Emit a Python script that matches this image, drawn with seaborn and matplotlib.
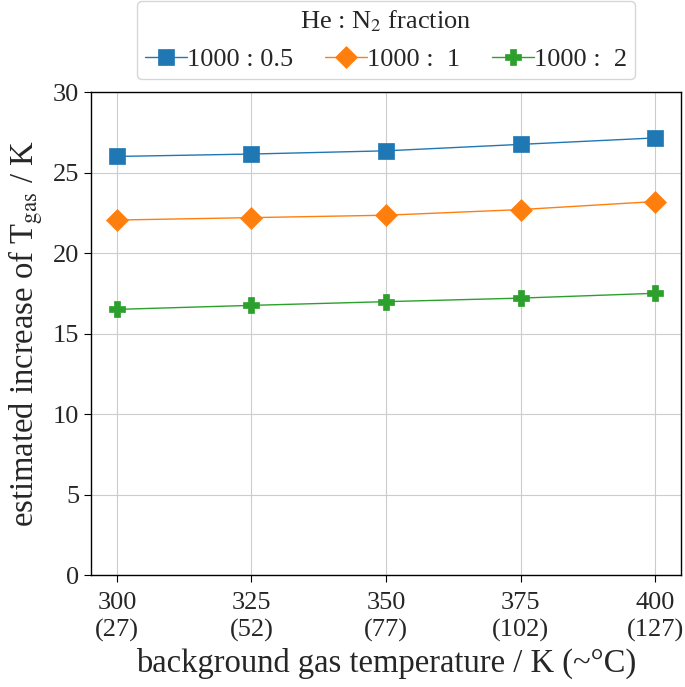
import pandas as pd
import seaborn as sns
import matplotlib.pyplot as plt

# data
temps_K = [300, 325, 350, 375, 400]
temps_C = [27, 52, 77, 102, 127]
series_labels = ['1000 : 0.5', '1000 :  1', '1000 :  2']
dT_05 = [26.0, 26.15, 26.35, 26.75, 27.15]
dT_1 = [22.05, 22.2, 22.35, 22.7, 23.2]
dT_2 = [16.5, 16.75, 16.98, 17.2, 17.5]

df = pd.DataFrame({
    'T': temps_K * 3,
    'dT': dT_05 + dT_1 + dT_2,
    'ratio': [series_labels[0]] * 5 + [series_labels[1]] * 5 + [series_labels[2]] * 5,
})

sns.set_style('whitegrid')
plt.rcParams['font.family'] = ['Liberation Serif', 'DejaVu Serif']
plt.rcParams['mathtext.fontset'] = 'stix'

fig = plt.figure(figsize=(6.85, 6.87), dpi=100)
ax = fig.add_axes([0.133, 0.163, 0.861, 0.703])

colors = ['#1f77b4', '#ff7f0e', '#2ca02c']
markers = ['s', 'D', 'P']
for lab, c, m in zip(series_labels, colors, markers):
    sns.lineplot(data=df[df['ratio'] == lab], x='T', y='dT', color=c, marker=m,
                 markersize=11, markeredgewidth=0.5, markeredgecolor=c,
                 linewidth=1, label=lab, ax=ax)

ax.set_xlim(295.2, 404.8)
ax.set_ylim(0, 30)
ax.set_xticks(temps_K)
ax.set_xticklabels([f'{k}\n({c})' for k, c in zip(temps_K, temps_C)], linespacing=1.3)
ax.set_yticks(range(0, 31, 5))
ax.tick_params(axis='both', labelsize=19, length=5, color='black', bottom=True, left=True)
ax.tick_params(axis='x', pad=7)

for s in ax.spines.values():
    s.set_color('black')
    s.set_linewidth(1.0)
ax.grid(True, color='#cccccc', linewidth=0.8)

ax.set_xlabel('background gas temperature / K (~°C)', fontsize=23.5, labelpad=4)
ax.set_ylabel(r'estimated increase of T$_{\mathrm{gas}}$ / K', fontsize=23.5, labelpad=6)

leg = ax.legend(title=r'He : N$_2$ fraction', ncol=3, loc='lower center',
                bbox_to_anchor=(0.5, 1.0), fontsize=19, title_fontsize=19,
                handlelength=1.6, handletextpad=0.0, columnspacing=1.2,
                frameon=True, fancybox=True, borderpad=0.3)
leg.get_frame().set_edgecolor('#cccccc')

fig.savefig('out.png', dpi=100)
